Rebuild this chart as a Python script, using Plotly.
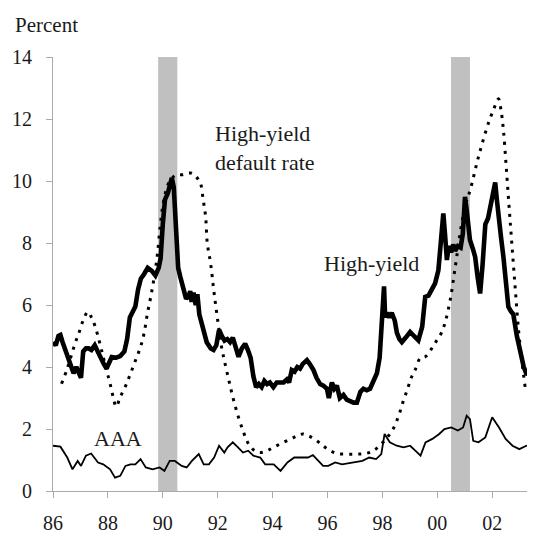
import plotly.graph_objects as go

# high-yield spread (thick line)
hy_years = [1986.0, 1986.1, 1986.2, 1986.27, 1986.35, 1986.45, 1986.55, 1986.65, 1986.75, 1986.85,
            1986.95, 1987.02, 1987.1, 1987.2, 1987.3, 1987.4, 1987.52, 1987.62, 1987.72, 1987.85,
            1987.95, 1988.05, 1988.14, 1988.3, 1988.45, 1988.6, 1988.7, 1988.8, 1988.9, 1989.0,
            1989.1, 1989.2, 1989.32, 1989.45, 1989.6, 1989.73, 1989.85, 1989.92, 1990.0, 1990.08,
            1990.18, 1990.28, 1990.33, 1990.4, 1990.48, 1990.56, 1990.64, 1990.75, 1990.85, 1990.95,
            1991.0, 1991.05, 1991.12, 1991.2, 1991.26, 1991.33, 1991.45, 1991.6, 1991.75, 1991.85,
            1991.95, 1992.05, 1992.15, 1992.25, 1992.35, 1992.45, 1992.55, 1992.65, 1992.76, 1992.88,
            1993.0, 1993.1, 1993.2, 1993.3, 1993.4, 1993.5, 1993.6, 1993.7, 1993.8, 1993.9,
            1994.03, 1994.15, 1994.28, 1994.4, 1994.52, 1994.6, 1994.7, 1994.8, 1994.9, 1995.0,
            1995.1, 1995.25, 1995.35, 1995.49, 1995.6, 1995.73, 1995.85, 1995.98, 1996.05, 1996.16,
            1996.25, 1996.34, 1996.45, 1996.58, 1996.7, 1996.83, 1996.95, 1997.07, 1997.2, 1997.31,
            1997.43, 1997.55, 1997.68, 1997.8, 1997.9, 1997.98, 1998.06, 1998.1, 1998.16, 1998.25,
            1998.34, 1998.45, 1998.53, 1998.62, 1998.71, 1998.85, 1999.01, 1999.15, 1999.31, 1999.45,
            1999.56, 1999.68, 1999.8, 1999.92, 2000.04, 2000.12, 2000.22, 2000.28, 2000.35, 2000.42,
            2000.5, 2000.58, 2000.65, 2000.75, 2000.85, 2000.93, 2001.01, 2001.08, 2001.19, 2001.3,
            2001.38, 2001.47, 2001.56, 2001.65, 2001.75, 2001.85, 2001.95, 2002.06, 2002.11, 2002.17,
            2002.23, 2002.32, 2002.41, 2002.5, 2002.59, 2002.68, 2002.77, 2002.9, 2003.02, 2003.15,
            2003.26, 2003.35, 2003.45, 2003.56]
hy_values = [4.8, 4.7, 5.0, 5.03, 4.8, 4.55, 4.2, 3.95, 3.8, 4.0,
             3.8, 3.65, 4.5, 4.6, 4.6, 4.55, 4.7, 4.5, 4.3, 4.1,
             3.95, 4.2, 4.32, 4.3, 4.35, 4.5, 4.9, 5.6, 5.8, 5.95,
             6.5, 6.85, 7.0, 7.2, 7.1, 6.95, 7.2, 7.5, 8.6, 9.4,
             9.6, 10.05, 10.1, 9.8, 8.5, 7.2, 6.9, 6.5, 6.2, 6.3,
             6.45, 6.1, 6.4, 6.0, 6.35, 5.7, 5.3, 4.8, 4.6, 4.55,
             4.7, 5.2, 5.0, 4.85, 4.9, 4.8, 4.95, 4.6, 4.33, 4.6,
             4.75, 4.55, 4.3, 3.7, 3.35, 3.45, 3.35, 3.55, 3.45, 3.5,
             3.35, 3.5, 3.5, 3.5, 3.6, 3.5, 3.9, 3.85, 4.0, 3.95,
             4.1, 4.22, 4.1, 3.9, 3.65, 3.45, 3.4, 3.3, 3.0, 3.5,
             3.3, 3.4, 3.0, 3.1, 2.95, 2.9, 2.85, 2.85, 3.2, 3.3,
             3.25, 3.3, 3.55, 3.8, 4.3, 5.3, 6.6, 5.6, 5.75, 5.6,
             5.75, 5.5, 5.1, 4.9, 4.8, 4.95, 5.13, 5.0, 4.86, 5.3,
             6.26, 6.3, 6.5, 6.7, 7.12, 8.0, 8.95, 8.3, 7.45, 7.9,
             7.7, 7.95, 7.75, 7.9, 7.85, 8.3, 9.49, 9.0, 8.1, 7.8,
             7.55, 6.9, 6.37, 7.3, 8.6, 8.8, 9.3, 9.9, 9.95, 9.4,
             8.74, 8.2, 7.55, 6.6, 5.94, 5.8, 5.7, 5.0, 4.5, 4.0,
             3.75, 3.85, 4.05, 4.0]

# high-yield default rate (dotted)
dr_years = [1986.31, 1986.5, 1986.65, 1986.8, 1986.96, 1987.12, 1987.27, 1987.4, 1987.52, 1987.68,
            1987.83, 1987.95, 1988.08, 1988.2, 1988.3, 1988.45, 1988.65, 1988.82, 1989.0, 1989.19,
            1989.32, 1989.44, 1989.57, 1989.69, 1989.8, 1989.9, 1990.0, 1990.12, 1990.25, 1990.4,
            1990.5, 1990.7, 1990.9, 1991.05, 1991.2, 1991.37, 1991.47, 1991.56, 1991.62, 1991.74,
            1991.87, 1992.05, 1992.15, 1992.24, 1992.4, 1992.55, 1992.75, 1992.92, 1993.05, 1993.17,
            1993.35, 1993.55, 1993.8, 1994.04, 1994.35, 1994.66, 1994.9, 1995.1, 1995.3, 1995.53,
            1995.75, 1995.91, 1996.1, 1996.34, 1996.7, 1997.03, 1997.3, 1997.52, 1997.7, 1997.9,
            1998.15, 1998.39, 1998.6, 1998.77, 1998.92, 1999.05, 1999.19, 1999.39, 1999.56, 1999.8,
            1999.98, 2000.15, 2000.29, 2000.47, 2000.65, 2000.89, 2001.05, 2001.2, 2001.5, 2001.86,
            2002.05, 2002.23, 2002.32, 2002.41, 2002.5, 2002.59, 2002.68, 2002.77, 2002.86, 2002.96,
            2003.08, 2003.2]
dr_values = [3.46, 3.9, 4.32, 4.75, 5.14, 5.55, 5.78, 5.6, 5.35, 4.85,
             4.32, 3.9, 3.46, 3.0, 2.72, 3.03, 3.4, 3.78, 4.2, 4.65,
             5.1, 5.73, 6.3, 6.92, 7.6, 8.5, 9.2, 9.7, 10.0, 10.15,
             10.2, 10.2, 10.25, 10.25, 10.15, 9.93, 9.4, 8.85, 8.0, 7.35,
             6.38, 5.19, 4.6, 4.22, 3.6, 3.03, 2.4, 1.95, 1.65, 1.46,
             1.3, 1.24, 1.3, 1.41, 1.55, 1.68, 1.78, 1.84, 1.78, 1.68,
             1.52, 1.41, 1.3, 1.21, 1.19, 1.19, 1.2, 1.24, 1.32, 1.46,
             1.7, 2.0, 2.45, 2.92, 3.3, 3.65, 3.9, 4.3, 4.33, 4.6,
             4.86, 5.1, 5.45, 6.16, 7.2, 8.63, 9.3, 9.71, 10.78, 11.86,
             12.3, 12.65, 12.3, 11.64, 10.6, 9.49, 8.4, 7.34, 6.3, 5.19,
             4.2, 3.36]

# AAA spread (thin line)
aaa_years = [1986.0, 1986.27, 1986.52, 1986.71, 1986.9, 1987.02, 1987.2, 1987.39, 1987.64, 1987.83,
             1988.08, 1988.26, 1988.45, 1988.64, 1988.82, 1989.0, 1989.19, 1989.38, 1989.63, 1989.88,
             1990.06, 1990.25, 1990.44, 1990.69, 1990.87, 1991.06, 1991.31, 1991.49, 1991.68, 1991.87,
             1992.05, 1992.24, 1992.36, 1992.55, 1992.74, 1992.92, 1993.11, 1993.3, 1993.55, 1993.73,
             1994.04, 1994.29, 1994.54, 1994.79, 1995.04, 1995.29, 1995.47, 1995.66, 1995.84, 1996.03,
             1996.28, 1996.53, 1997.03, 1997.27, 1997.52, 1997.77, 1997.96, 1998.08, 1998.27, 1998.52,
             1998.77, 1999.01, 1999.2, 1999.39, 1999.57, 1999.82, 2000.07, 2000.26, 2000.51, 2000.75,
             2000.94, 2001.07, 2001.19, 2001.31, 2001.5, 2001.75, 2002.0, 2002.25, 2002.49, 2002.74,
             2002.99, 2003.24, 2003.56]
aaa_values = [1.46, 1.43, 1.08, 0.7, 0.97, 0.81, 1.14, 1.21, 0.92, 0.86,
              0.7, 0.43, 0.49, 0.81, 0.86, 0.86, 1.03, 0.76, 0.7, 0.76,
              0.65, 0.97, 0.97, 0.81, 0.76, 0.97, 1.19, 0.86, 0.86, 1.08,
              1.46, 1.24, 1.41, 1.57, 1.41, 1.24, 1.3, 1.14, 1.08, 0.86,
              0.86, 0.65, 0.92, 1.08, 1.08, 1.08, 1.16, 0.97, 0.81, 0.81,
              0.92, 0.86, 0.92, 0.97, 1.08, 1.03, 1.19, 1.84, 1.57, 1.46,
              1.41, 1.46, 1.3, 1.14, 1.57, 1.68, 1.84, 2.0, 2.05, 1.95,
              2.05, 2.43, 2.32, 1.62, 1.57, 1.73, 2.38, 2.05, 1.68, 1.46,
              1.35, 1.46, 1.51]

recessions = [(1989.83, 1990.53), (2000.5, 2001.19)]
tick_years = [1986, 1988, 1990, 1992, 1994, 1996, 1998, 2000, 2002]
tick_text = ['86', '88', '90', '92', '94', '96', '98', '00', '02']

font = 'Liberation Serif'
axis_gray = '#aaaaaa'

fig = go.Figure()
fig.add_trace(go.Scatter(x=aaa_years, y=aaa_values, mode='lines',
                         line=dict(color='black', width=1.8), showlegend=False))
fig.add_trace(go.Scatter(x=dr_years, y=dr_values, mode='lines', line_shape='spline',
                         line=dict(color='black', width=3, dash='3px,6px'), showlegend=False))
fig.add_trace(go.Scatter(x=hy_years, y=hy_values, mode='lines',
                         line=dict(color='black', width=4.6), showlegend=False))

for start, end in recessions:
    fig.add_shape(type='rect', xref='x', yref='y', x0=start, x1=end, y0=0, y1=14,
                  fillcolor='#c0c0c0', line_width=0, layer='below')

fig.add_annotation(text='Percent', xref='paper', yref='paper', x=-0.083, y=1.073,
                   xanchor='left', yanchor='middle', showarrow=False, font=dict(size=21))
fig.add_annotation(text='High-yield<br>default rate', x=1991.84, y=11.08, xanchor='left',
                   yanchor='middle', align='left', showarrow=False, font=dict(size=22))
fig.add_annotation(text='High-yield', x=1995.81, y=7.35, xanchor='left', yanchor='middle',
                   showarrow=False, font=dict(size=22))
fig.add_annotation(text='AAA', x=1987.43, y=1.7, xanchor='left', yanchor='middle',
                   showarrow=False, font=dict(size=22))

# the page body adds an 8px margin, so the figure is 8px smaller than the window
fig.update_layout(
    width=527, height=528,
    margin=dict(l=45, r=0, t=49, b=45, autoexpand=False),
    plot_bgcolor='white', paper_bgcolor='white',
    font=dict(family=font, size=20, color='#1a1a1a'),
    xaxis=dict(range=[1986, 2003.56], tickvals=tick_years, ticktext=tick_text, automargin=False,
               showline=True, linecolor=axis_gray, linewidth=1, ticks='outside', ticklen=6,
               tickcolor=axis_gray, showgrid=False, zeroline=False, ticklabelstandoff=8),
    yaxis=dict(range=[0, 14], dtick=2, showline=True, linecolor=axis_gray, linewidth=1,
               automargin=False, ticks='outside', ticklen=6, tickcolor=axis_gray,
               showgrid=False, zeroline=False, ticklabelstandoff=10),
)

fig.write_html('out.html')
